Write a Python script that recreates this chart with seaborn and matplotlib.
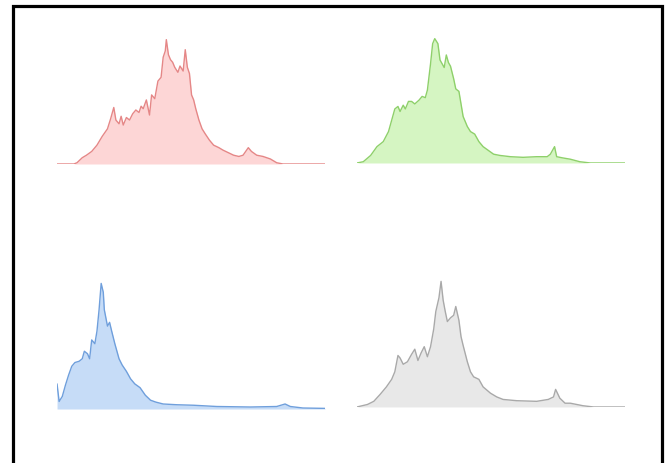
import matplotlib
matplotlib.use("Agg")
import matplotlib.pyplot as plt
import seaborn as sns
from matplotlib.patches import Rectangle

sns.set_style("white")

# histogram outlines (bin 0-255, height in % of peak)
red_x = [0, 16, 19, 24, 28, 33, 38, 43, 48, 51, 54, 56, 59, 61, 63, 66, 69, 72, 75, 78,
         80, 82, 85, 88, 90, 93, 96, 99, 101, 103, 104, 106, 108, 110, 112, 115, 117, 120,
         122, 124, 126, 128, 130, 132, 135, 138, 141, 145, 149, 154, 158, 163, 168, 173,
         177, 182, 185, 190, 196, 203, 209, 215, 255]
red_y = [0, 0, 1, 5, 7, 10, 15, 22, 28, 36, 45, 35, 32, 38, 31, 37, 35, 40, 43, 41,
         46, 44, 51, 39, 55, 52, 66, 69, 85, 90, 99, 87, 83, 81, 77, 73, 78, 74,
         91, 77, 72, 55, 51, 44, 35, 28, 24, 19, 15, 13, 11, 9, 7, 6,
         7, 13, 10, 7, 6, 4, 1, 0, 0]

green_x = [0, 6, 13, 19, 25, 30, 33, 36, 39, 41, 44, 46, 49, 52, 55, 59, 62, 65, 67, 70,
           72, 74, 77, 79, 81, 83, 85, 87, 89, 92, 94, 97, 99, 101, 105, 108, 112, 116,
           120, 125, 130, 136, 146, 158, 171, 181, 184, 188, 190, 196, 203, 212, 222, 255]
green_y = [0, 1, 6, 13, 17, 25, 34, 43, 45, 41, 46, 43, 49, 49, 47, 50, 53, 52, 58, 79,
           95, 99, 95, 82, 79, 76, 86, 80, 77, 67, 59, 57, 47, 37, 29, 25, 23, 17,
           13, 10, 7, 6, 5, 4.5, 5, 5, 7, 13, 5, 4, 3, 1, 0, 0]

blue_x = [0, 2, 5, 8, 11, 14, 17, 21, 24, 26, 29, 31, 33, 36, 38, 40, 42, 44, 45, 48,
          50, 52, 55, 59, 62, 66, 70, 74, 79, 84, 89, 94, 101, 114, 130, 152, 184, 209,
          217, 222, 234, 255]
blue_y = [20, 6, 10, 19, 27, 34, 37, 38, 40, 46, 44, 40, 55, 52, 62, 79, 100, 93, 79, 66,
          69, 62, 52, 40, 35, 30, 24, 20, 17, 11, 7, 5.5, 4, 3.4, 3, 2, 1.6, 2,
          4, 2, 0.8, 0.5]

gray_x = [0, 10, 16, 22, 28, 33, 36, 39, 41, 44, 48, 52, 55, 58, 61, 64, 67, 70, 73, 75,
          78, 80, 82, 84, 86, 89, 92, 94, 97, 99, 101, 105, 108, 111, 116, 120, 127, 133,
          139, 152, 171, 182, 187, 189, 193, 198, 203, 209, 215, 225, 255]
gray_y = [0, 2, 4.5, 10, 16, 22, 28, 41, 39, 34, 36, 42, 46, 37, 43, 48, 40, 48, 62, 76,
          87, 100, 85, 76, 68, 71, 73, 80, 69, 56, 49, 36, 28, 24, 22, 16, 11, 8,
          6, 5, 4.5, 6, 8, 14, 7, 3, 3, 2, 1, 0, 0]

panels = [
    (red_x, red_y, "#e58787", "#fdd6d6", [0.0855, 0.6458, 0.4018, 0.274]),
    (green_x, green_y, "#8ed06a", "#d5f5c2", [0.5352, 0.6480, 0.4018, 0.274]),
    (blue_x, blue_y, "#6f9fdc", "#c6dcf7", [0.0855, 0.1166, 0.4018, 0.274]),
    (gray_x, gray_y, "#a9a9a9", "#e8e8e8", [0.5352, 0.1210, 0.4018, 0.274]),
]

fig = plt.figure(figsize=(6.67, 4.63), dpi=100)

for xs, ys, line_c, fill_c, pos in panels:
    ax = fig.add_axes(pos)
    ax.fill_between(xs, 0, ys, color=fill_c, linewidth=0)
    sns.lineplot(x=xs, y=ys, ax=ax, color=line_c, linewidth=1.0)
    ax.set_xlim(0, 255)
    ax.set_ylim(0, 101)
    ax.axis("off")

# black frame round the picture (bottom edge falls outside)
frame = Rectangle((13 / 667, -0.05), 649 / 667, 1.05 - 6 / 463,
                  transform=fig.transFigure, fill=False,
                  edgecolor="black", linewidth=2.3)
fig.add_artist(frame)

fig.savefig("out.png", dpi=100, facecolor="white")
